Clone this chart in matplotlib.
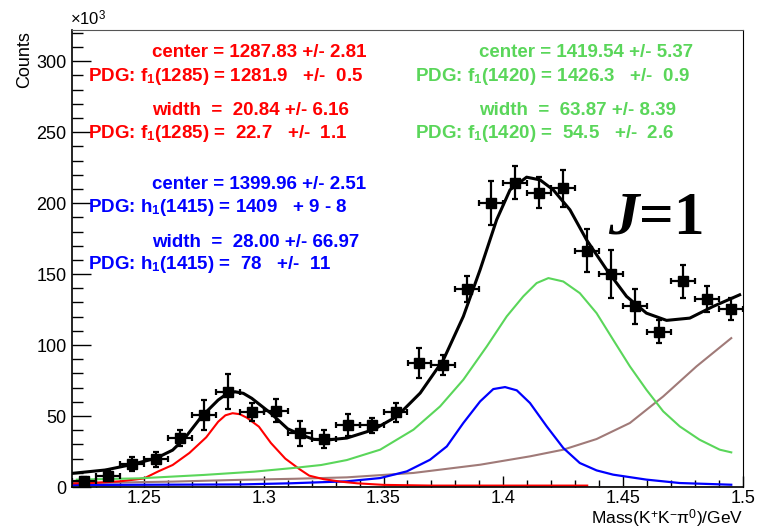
import matplotlib.pyplot as plt
from matplotlib.ticker import MultipleLocator

plt.rcParams['font.family'] = ['Liberation Sans', 'DejaVu Sans']
plt.rcParams['mathtext.fontset'] = 'custom'
plt.rcParams['mathtext.rm'] = 'Liberation Sans'
plt.rcParams['mathtext.bf'] = 'Liberation Sans:bold'
plt.rcParams['mathtext.it'] = 'Liberation Serif:italic:bold'

# binned mass spectrum (counts in units of 10^3)
mass = [1.225, 1.235, 1.245, 1.255, 1.265, 1.275, 1.285, 1.295, 1.305, 1.315,
        1.325, 1.335, 1.345, 1.355, 1.365, 1.375, 1.385, 1.395, 1.405, 1.415,
        1.425, 1.435, 1.445, 1.455, 1.465, 1.475, 1.485, 1.495]
counts = [4, 8, 16, 19.7, 34.5, 50.7, 67, 53, 53.8, 37.8,
          33.8, 43.5, 43.5, 52.5, 87.5, 86, 139.5, 200, 214.5, 207.5,
          210.5, 166.5, 150, 127.5, 109.5, 145, 132.5, 125.5]
count_err = [3, 4, 5, 5.3, 5.9, 10.6, 12.3, 6.5, 8.2, 8.8,
             6.5, 7.9, 5.3, 7, 10.6, 7, 9.4, 15.3, 11.7, 11.1,
             12.9, 15.3, 17, 12.3, 8.2, 11.7, 9.4, 7.6]
bin_half = 0.005

# total fit
fit_x = [1.220, 1.234, 1.244, 1.255, 1.262, 1.267, 1.274, 1.281, 1.2845, 1.288,
         1.2915, 1.295, 1.303, 1.310, 1.316, 1.321, 1.327, 1.3347, 1.3458, 1.3556,
         1.3653, 1.375, 1.3833, 1.3903, 1.3972, 1.4028, 1.4097, 1.4153, 1.4208, 1.4278,
         1.4347, 1.4431, 1.4514, 1.4597, 1.4681, 1.4778, 1.4875, 1.4986]
fit_y = [9.6, 12.0, 15.5, 20.2, 26.0, 34.3, 49.5, 61.3, 65.5, 67.1,
         66.0, 62.5, 51.9, 41.0, 36.5, 33.5, 33.2, 34.5, 40.4, 49.8,
         66.2, 89.7, 120.2, 153.1, 188.3, 209.4, 218.3, 216.4, 209.4, 195.3,
         174.2, 153.1, 134.3, 122.5, 117.4, 119.0, 127.2, 135.4]

# f1(1285) component
f1285_x = [1.220, 1.230, 1.240, 1.250, 1.256, 1.262, 1.269, 1.276, 1.281, 1.284,
           1.287, 1.290, 1.293, 1.298, 1.303, 1.309, 1.315, 1.319, 1.325, 1.332,
           1.339, 1.350, 1.370, 1.400, 1.435]
f1285_y = [2.5, 3.0, 4.0, 6.0, 11.0, 15.5, 24.0, 35.0, 46.0, 50.5,
           52.0, 51.3, 48.8, 42.5, 31.0, 20.0, 12.5, 8.0, 5.5, 3.8,
           2.6, 1.5, 1.0, 1.0, 1.0]

# f1(1420) component
f1420_x = [1.222, 1.248, 1.275, 1.296, 1.313, 1.324, 1.3347, 1.3486, 1.3625, 1.3736,
           1.3833, 1.3931, 1.4014, 1.4083, 1.4139, 1.4188, 1.425, 1.4319, 1.4389, 1.4458,
           1.4528, 1.4597, 1.4667, 1.4736, 1.4819, 1.4903, 1.4951]
f1420_y = [5.2, 6.1, 8.5, 10.8, 13.5, 15.5, 19.0, 26.3, 40.4, 56.8,
           75.6, 99.1, 120.2, 134.3, 143.7, 147.2, 144.8, 136.6, 122.5, 103.8,
           85.0, 68.5, 53.3, 42.7, 33.3, 26.3, 24.4]

# h1(1415) component
h1415_x = [1.220, 1.290, 1.311, 1.3347, 1.3486, 1.3597, 1.3694, 1.3764, 1.3833, 1.3903,
           1.3958, 1.4007, 1.4056, 1.4111, 1.4181, 1.425, 1.4319, 1.4389, 1.4458, 1.4597,
           1.4736, 1.4951]
h1415_y = [1.4, 1.8, 2.6, 4.0, 6.3, 11.0, 19.2, 28.6, 45.1, 60.3,
           69.0, 70.4, 68.1, 59.2, 42.7, 27.5, 16.9, 11.7, 8.7, 5.2,
           2.8, 1.6]

# background
bkg_x = [1.220, 1.262, 1.289, 1.313, 1.3347, 1.3625, 1.3903, 1.4111, 1.425, 1.4389,
         1.4528, 1.4667, 1.4806, 1.4951]
bkg_y = [2.6, 3.8, 5.0, 5.8, 6.8, 9.9, 15.7, 21.6, 26.3, 33.8,
         45.1, 63.8, 85.0, 104.9]

flat_x = [1.220, 1.495]
flat_y = [0.3, 0.3]

red = '#ff0000'
green = '#5ad65a'
blue = '#0000ff'
brown = '#a07a78'

fig = plt.figure(figsize=(7.61, 5.29), dpi=100)
ax = fig.add_axes([72 / 761, 1 - 487 / 529, 671 / 761, 457 / 529])

ax.plot(flat_x, flat_y, color='#d2c6be', lw=2.0)
ax.plot(bkg_x, bkg_y, color=brown, lw=1.5)
ax.plot(h1415_x, h1415_y, color=blue, lw=1.6)
ax.plot(f1285_x, f1285_y, color=red, lw=1.5)
ax.plot(f1420_x, f1420_y, color=green, lw=1.5)
ax.errorbar(mass, counts, xerr=bin_half, yerr=count_err, fmt='s', color='k',
            ms=6.5, elinewidth=1.6, capsize=2.5, capthick=1.6)
ax.plot(fit_x, fit_y, color='k', lw=2.2)

ax.set_xlim(1.22, 1.5)
ax.set_ylim(0, 322)
ax.xaxis.set_major_locator(MultipleLocator(0.05))
ax.xaxis.set_minor_locator(MultipleLocator(0.01))
ax.yaxis.set_major_locator(MultipleLocator(50))
ax.yaxis.set_minor_locator(MultipleLocator(10))
ax.xaxis.set_major_formatter(plt.FuncFormatter(lambda v, p: f'{v:g}'))
ax.tick_params(which='both', direction='in', top=False, right=False,
               labelsize=13, width=1.0)
ax.tick_params(axis='y', which='major', length=14, pad=4)
ax.tick_params(axis='y', which='minor', length=8)
ax.tick_params(axis='x', which='major', length=8, pad=2.5)
ax.tick_params(axis='x', which='minor', length=5)
for side in ['left', 'bottom']:
    ax.spines[side].set_linewidth(1.2)
ax.spines['top'].set_linewidth(0.8)
ax.spines['top'].set_color('#555555')
ax.spines['right'].set_linewidth(0.8)

fig.text(70 / 761, 1 - 25 / 529, r'×10$^{3}$', fontsize=12, ha='left', va='baseline')
fig.text(25 / 761, 1 - 31 / 529, 'Counts', fontsize=13, rotation=90, ha='center', va='top')
fig.text(743 / 761, 1 - 524 / 529, r'Mass(K$^{+}$K$^{-}$π$^{0}$)/GeV', fontsize=12.5,
         ha='right', va='baseline')

# fit results next to the PDG values
info = [
    (0.1192, 0.9403, 'center = 1287.83 +/- 2.81', red),
    (0.0238, 0.8884, r'PDG: f$_\mathbf{1}$(1285) = 1281.9   +/-  0.5', red),
    (0.1192, 0.8140, 'width  =  20.84 +/- 6.16', red),
    (0.0238, 0.7643, r'PDG: f$_\mathbf{1}$(1285) =  22.7   +/-  1.1', red),
    (0.1192, 0.6521, 'center = 1399.96 +/- 2.51', blue),
    (0.0238, 0.6024, r'PDG: h$_\mathbf{1}$(1415) = 1409   + 9 - 8', blue),
    (0.1192, 0.5258, 'width  =  28.00 +/- 66.97', blue),
    (0.0238, 0.4764, r'PDG: h$_\mathbf{1}$(1415) =  78   +/-  11', blue),
    (0.6066, 0.9403, 'center = 1419.54 +/- 5.37', green),
    (0.5112, 0.8884, r'PDG: f$_\mathbf{1}$(1420) = 1426.3   +/-  0.9', green),
    (0.6066, 0.8140, 'width  =  63.87 +/- 8.39', green),
    (0.5112, 0.7643, r'PDG: f$_\mathbf{1}$(1420) =  54.5   +/-  2.6', green),
]
for tx, ty, s, c in info:
    ax.text(tx, ty, s, transform=ax.transAxes, color=c, fontsize=13.5,
            fontweight='bold', ha='left', va='baseline')

ax.text(608 / 761, 1 - 233 / 529, r'$J$=1', transform=fig.transFigure,
        fontsize=44, fontweight='bold', family='Liberation Serif',
        ha='left', va='baseline')

fig.savefig('out.png', dpi=100)
